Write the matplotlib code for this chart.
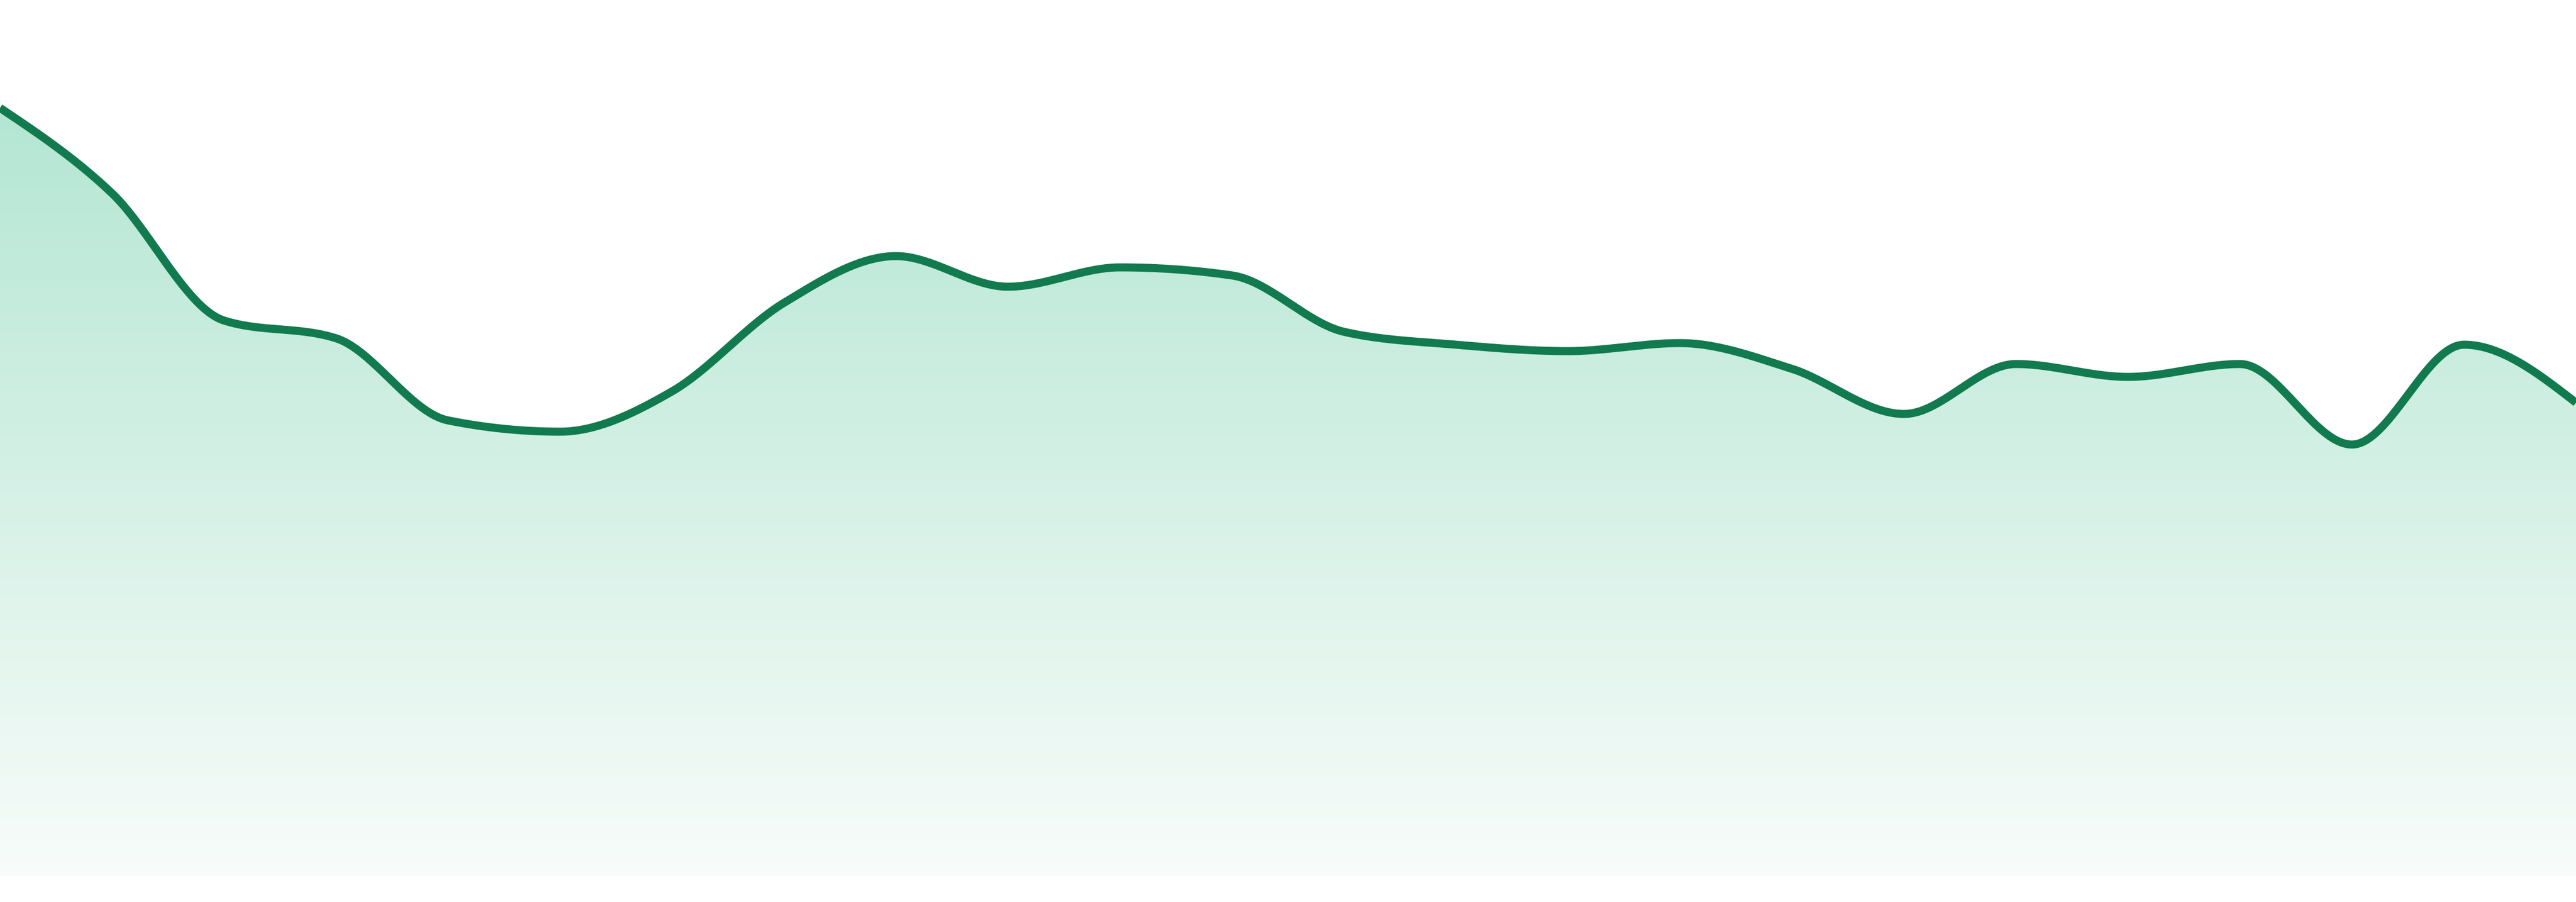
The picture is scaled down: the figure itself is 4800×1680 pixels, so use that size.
import matplotlib
matplotlib.use("Agg")
import matplotlib.pyplot as plt
import numpy as np
from matplotlib.colors import LinearSegmentedColormap

# values (24 evenly spaced points, arbitrary units)
points = np.arange(24)
values = [493, 440, 361, 350, 299, 292, 317, 372, 401, 382, 394, 389,
          354, 346, 342, 347, 331, 303, 334, 326, 334, 284, 346, 310]
baseline = 16

line_color = "#117a4e"
fill_top = "#b4e6d3"
fill_bottom = "#f8fcfa"


def monotone(x, y, n=40):
    # monotone cubic (like d3.curveMonotoneX)
    x = np.asarray(x, float)
    y = np.asarray(y, float)
    h = np.diff(x)
    s = np.diff(y) / h
    m = np.zeros_like(y)
    for i in range(1, len(y) - 1):
        if s[i - 1] * s[i] > 0:
            p = (s[i - 1] * h[i] + s[i] * h[i - 1]) / (h[i - 1] + h[i])
            m[i] = np.sign(s[i - 1]) * min(2 * abs(s[i - 1]), 2 * abs(s[i]), abs(p))
    m[0] = (3 * s[0] - m[1]) / 2
    m[-1] = (3 * s[-1] - m[-2]) / 2
    xs, ys = [], []
    for i in range(len(h)):
        t = np.linspace(0, 1, n, endpoint=(i == len(h) - 1))
        h00 = 2 * t**3 - 3 * t**2 + 1
        h10 = t**3 - 2 * t**2 + t
        h01 = -2 * t**3 + 3 * t**2
        h11 = t**3 - t**2
        xs.append(x[i] + t * h[i])
        ys.append(h00 * y[i] + h10 * h[i] * m[i] + h01 * y[i + 1] + h11 * h[i] * m[i + 1])
    return np.concatenate(xs), np.concatenate(ys)


xs, ys = monotone(points, values)

fig = plt.figure(figsize=(16, 5.6), dpi=300)
ax = fig.add_axes([0, 0, 1, 1])
ax.set_xlim(points[0], points[-1])
ax.set_ylim(0, 560)
ax.axis("off")

# gradient fill clipped to the area under the curve
poly = ax.fill_between(xs, ys, baseline, color="none", lw=0)
cmap = LinearSegmentedColormap.from_list("g", [fill_bottom, fill_top])
grad = np.linspace(0, 1, 256).reshape(-1, 1)
img = ax.imshow(grad, cmap=cmap, aspect="auto", origin="lower",
                extent=[points[0], points[-1], baseline, max(values)], zorder=1)
img.set_clip_path(poly.get_paths()[0], transform=ax.transData)

ax.plot(xs, ys, color=line_color, lw=3.6, solid_capstyle="butt", zorder=3)

fig.savefig("out.png", dpi=300, facecolor="white")
